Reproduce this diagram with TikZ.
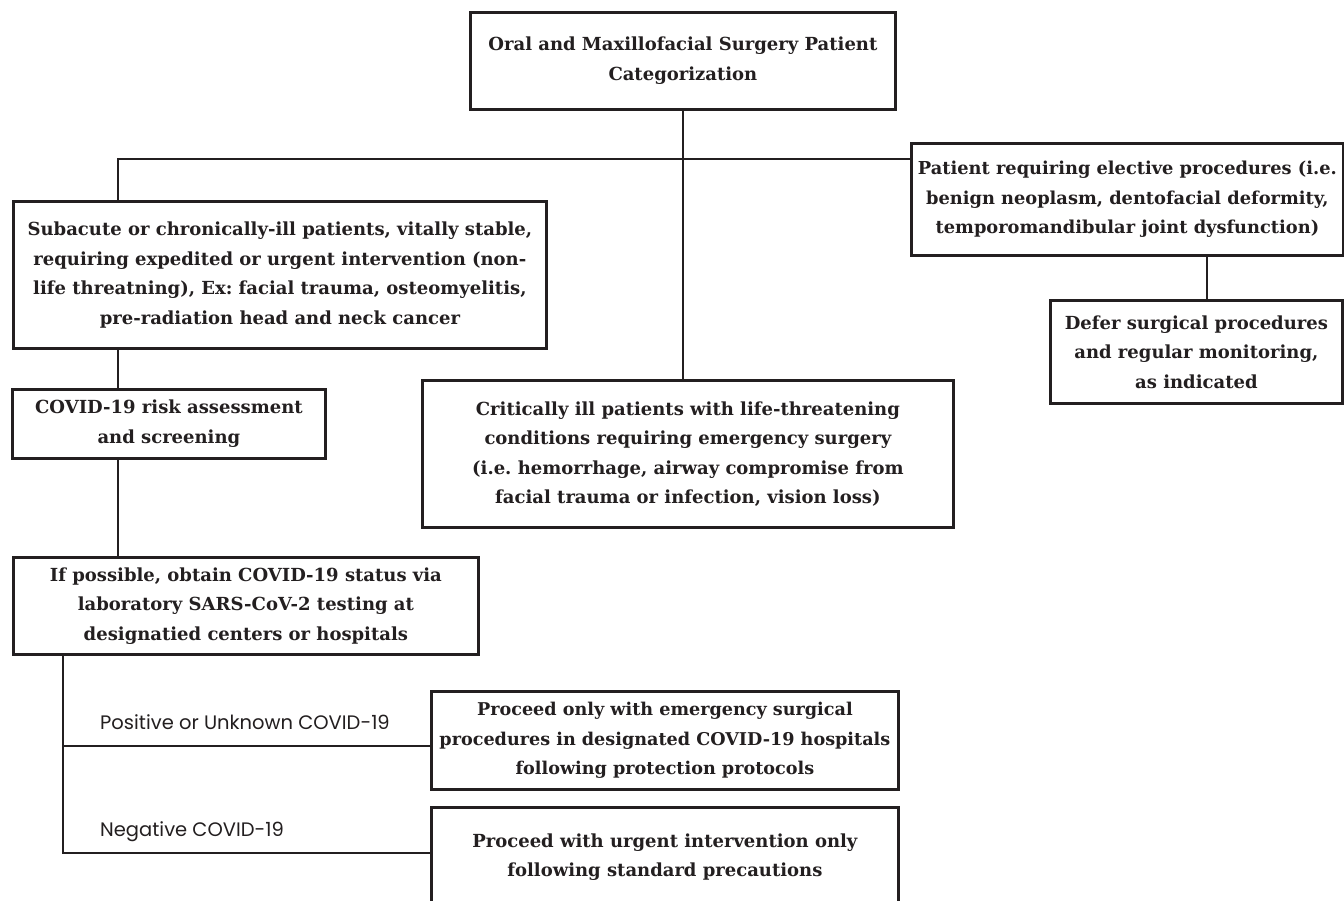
\documentclass[tikz,border=0pt]{standalone}
\usepackage{fontspec}
\setmainfont{DejaVu Serif}
\newfontfamily\labelfont{Poppins}
\definecolor{ink}{HTML}{231F20}
\begin{document}
\begin{tikzpicture}[x=1pt,y=-1pt,
  box/.style={draw=ink, line width=2.8pt, fill=white, inner sep=0pt, align=center,
    anchor=north west, text=ink, font=\bfseries\fontsize{18}{29.5}\selectfont\frenchspacing},
  conn/.style={draw=ink, line width=2.5pt},
  lbl/.style={anchor=west, inner sep=0pt, text=ink, font=\labelfont\fontsize{19.5}{22}\selectfont}]
\fill[white] (0,0) rectangle (1344,901);
\useasboundingbox (0,0) rectangle (1344,901);

\node[box, minimum width=425pt, minimum height=97pt] (top) at (469,11)
  {Oral and Maxillofacial Surgery Patient\\Categorization};
\node[box, minimum width=533pt, minimum height=147pt] (sub) at (12,200)
  {Subacute or chronically-ill patients, vitally stable,\\requiring expedited or urgent intervention (non-\\life threatning), Ex: facial trauma, osteomyelitis,\\pre-radiation head and neck cancer};
\node[box, minimum width=531pt, minimum height=147pt] (crit) at (421,379)
  {Critically ill patients with life-threatening\\conditions requiring emergency surgery\\(i.e. hemorrhage, airway compromise from\\facial trauma or infection, vision loss)};
\node[box, minimum width=432pt, minimum height=112pt, font=\bfseries\fontsize{17.8}{29.5}\selectfont\frenchspacing] (elec) at (910,142)
  {Patient requiring elective procedures (i.e.\\benign neoplasm, dentofacial deformity,\\temporomandibular joint dysfunction)};
\node[box, minimum width=292pt, minimum height=103pt] (defer) at (1049,299)
  {Defer surgical procedures\\and regular monitoring,\\as indicated};
\node[box, minimum width=313pt, minimum height=69pt] (covid) at (11,388)
  {COVID-19 risk assessment\\and screening};
\node[box, minimum width=465pt, minimum height=97pt] (poss) at (12,556)
  {If possible, obtain COVID-19 status via\\laboratory SARS-CoV-2 testing at\\designatied centers or hospitals};
\node[box, minimum width=467pt, minimum height=98pt, font=\bfseries\fontsize{17.6}{29.5}\selectfont\frenchspacing] (pos) at (430,690)
  {Proceed only with emergency surgical\\procedures in designated COVID-19 hospitals\\following protection protocols};
\node[box, minimum width=467pt, minimum height=100pt] (neg) at (430,806)
  {Proceed with urgent intervention only\\following standard precautions};

\node[lbl] (lpos) at (100,722) {Positive or Unknown COVID-19};
\node[lbl] (lneg) at (100,832) {Negative COVID-19};

\coordinate (hl) at (118,159);
\coordinate (rv) at (1207,0);
\coordinate (b1) at (63,746);
\coordinate (b2) at (63,853);

\draw[conn] (top.south) -- (top.south |- crit.north);
\draw[conn] (sub.north -| hl) -- (hl) -- (hl -| elec.west);
\draw[conn] (sub.south -| hl) -- (covid.north -| hl);
\draw[conn] (covid.south -| hl) -- (poss.north -| hl);
\draw[conn] (elec.south -| rv) -- (defer.north -| rv);
\draw[conn] (poss.south -| b2) -- (b2) -- (b2 -| neg.west);
\draw[conn] (b1) -- (b1 -| pos.west);
\end{tikzpicture}
\end{document}
